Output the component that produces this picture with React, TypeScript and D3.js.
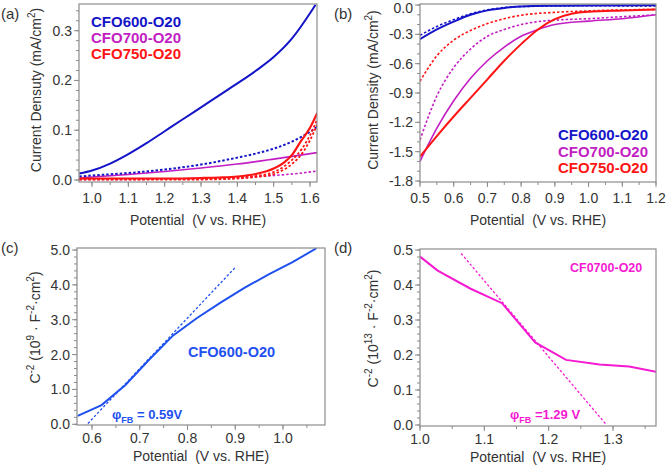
import { useEffect, useRef } from "react";
import * as d3 from "d3";

type Pt = [number, number];

// (a) OER current, solid = light, dotted = dark
const aBlueLight: Pt[] = [[0.965, 0.013], [1.0, 0.019], [1.05, 0.033], [1.1, 0.052], [1.15, 0.074], [1.2, 0.098], [1.25, 0.122], [1.3, 0.146], [1.35, 0.17], [1.4, 0.194], [1.45, 0.219], [1.5, 0.247], [1.55, 0.284], [1.6, 0.335], [1.615, 0.352]];
const aBlueDark: Pt[] = [[0.965, 0.007], [1.0, 0.009], [1.1, 0.014], [1.2, 0.021], [1.3, 0.031], [1.4, 0.045], [1.45, 0.053], [1.5, 0.063], [1.55, 0.077], [1.6, 0.097], [1.62, 0.107]];
const aMagLight: Pt[] = [[0.965, 0.004], [1.0, 0.006], [1.1, 0.011], [1.2, 0.017], [1.3, 0.024], [1.4, 0.032], [1.5, 0.042], [1.62, 0.055]];
const aMagDark: Pt[] = [[0.965, 0.001], [1.1, 0.001], [1.2, 0.002], [1.3, 0.003], [1.4, 0.005], [1.5, 0.009], [1.55, 0.012], [1.62, 0.018]];
const aRedLight: Pt[] = [[0.965, 0.003], [1.2, 0.003], [1.3, 0.004], [1.35, 0.005], [1.4, 0.007], [1.45, 0.012], [1.5, 0.023], [1.53, 0.036], [1.55, 0.05], [1.575, 0.078], [1.6, 0.105], [1.62, 0.135]];
const aRedDark1: Pt[] = [[0.965, 0.002], [1.3, 0.002], [1.4, 0.004], [1.45, 0.008], [1.5, 0.016], [1.55, 0.04], [1.58, 0.065], [1.6, 0.09], [1.62, 0.122]];
const aRedDark2: Pt[] = [[0.965, 0.001], [1.3, 0.001], [1.4, 0.003], [1.45, 0.006], [1.5, 0.012], [1.55, 0.032], [1.58, 0.055], [1.6, 0.08], [1.62, 0.112]];

// (b) ORR current
const bBlueLight: Pt[] = [[0.5, -0.35], [0.55, -0.25], [0.6, -0.17], [0.65, -0.1], [0.7, -0.055], [0.75, -0.03], [0.8, -0.015], [0.9, -0.008], [1.0, -0.005], [1.2, -0.003]];
const bBlueDark: Pt[] = [[0.5, -0.31], [0.55, -0.22], [0.6, -0.15], [0.65, -0.09], [0.7, -0.05], [0.8, -0.016], [1.0, -0.008], [1.2, -0.01]];
const bRedDark: Pt[] = [[0.5, -0.78], [0.55, -0.52], [0.6, -0.36], [0.65, -0.26], [0.7, -0.19], [0.75, -0.14], [0.8, -0.105], [0.9, -0.075], [1.0, -0.06], [1.1, -0.05], [1.2, -0.045]];
const bMagDark: Pt[] = [[0.5, -1.38], [0.55, -0.93], [0.6, -0.64], [0.65, -0.45], [0.7, -0.32], [0.75, -0.25], [0.8, -0.2], [0.85, -0.17], [0.9, -0.155], [1.0, -0.14], [1.1, -0.12], [1.2, -0.1]];
const bMagLight: Pt[] = [[0.5, -1.6], [0.55, -1.26], [0.6, -0.98], [0.65, -0.75], [0.7, -0.57], [0.75, -0.43], [0.8, -0.32], [0.85, -0.25], [0.9, -0.2], [1.0, -0.165], [1.1, -0.14], [1.2, -0.1]];
const bRedLight: Pt[] = [[0.5, -1.55], [0.55, -1.34], [0.6, -1.14], [0.65, -0.95], [0.7, -0.76], [0.75, -0.57], [0.8, -0.4], [0.85, -0.25], [0.9, -0.145], [0.95, -0.09], [1.0, -0.07], [1.1, -0.055], [1.2, -0.045]];

// (c) Mott-Schottky CFO600-O20
const cData: Pt[] = [[0.57, 0.24], [0.62, 0.55], [0.67, 1.13], [0.72, 1.86], [0.77, 2.55], [0.82, 3.05], [0.87, 3.5], [0.92, 3.92], [0.97, 4.3], [1.02, 4.65], [1.07, 5.05]];
const cFit: Pt[] = [[0.585, -0.07], [0.9, 4.5]];

// (d) Mott-Schottky CF0700-O20
const dData: Pt[] = [[1.0, 0.481], [1.0275, 0.441], [1.078, 0.39], [1.1275, 0.348], [1.179, 0.236], [1.227, 0.186], [1.279, 0.173], [1.325, 0.167], [1.367, 0.152]];
const dFit: Pt[] = [[1.064, 0.49], [1.29, 0.0]];

const aXTicks = [1.0, 1.1, 1.2, 1.3, 1.4, 1.5, 1.6];
const aYTicks = [0.0, 0.1, 0.2, 0.3];
const bXTicks = [0.5, 0.6, 0.7, 0.8, 0.9, 1.0, 1.1, 1.2];
const bYTicks = [0.0, -0.3, -0.6, -0.9, -1.2, -1.5, -1.8];
const cXTicks = [0.6, 0.7, 0.8, 0.9, 1.0];
const cYTicks = [0.0, 1.0, 2.0, 3.0, 4.0, 5.0];
const dXTicks = [1.0, 1.1, 1.2, 1.3];
const dYTicks = [0.0, 0.1, 0.2, 0.3, 0.4, 0.5];

const legendNames = ["CFO600-O20", "CFO700-O20", "CFO750-O20"];

const BLUE = "#1414c8";
const MAG = "#c21ec2";
const RED = "#ff1414";
const BLUE2 = "#1f50f0";
const PINK = "#f51ad2";
const FRAME = "#8c8c8c";
const INK = "#333";

type Part = [string, "n" | "sup" | "sub"];

function rich(text: any, parts: Part[], small: number) {
    let shift = 0;
    parts.forEach(([s, kind]) => {
        const target = kind === "sup" ? -6 : kind === "sub" ? 4 : 0;
        const t = text.append("tspan").attr("dy", target - shift).text(s);
        if (kind !== "n") t.attr("font-size", small);
        shift = target;
    });
}

interface Series { data: Pt[]; color: string; dotted?: boolean; width?: number; curve?: boolean }

function drawPanel(svg: any, o: {
    id: string;
    box: [number, number, number, number];
    xDom: [number, number]; xRng: [number, number];
    yDom: [number, number]; yRng: [number, number];
    xTicks: number[]; yTicks: number[]; xMinor: number; yMinor: number;
    labelGap: number; xTitleY: number; yTitleX: number; yTitleShift: number;
    yTitle: Part[]; series: Series[];
}) {
    const [x0, x1, y0, y1] = o.box;
    const x = d3.scaleLinear().domain(o.xDom).range(o.xRng);
    const y = d3.scaleLinear().domain(o.yDom).range(o.yRng);
    const g = svg.append("g");

    g.append("clipPath").attr("id", o.id).append("rect")
        .attr("x", x0).attr("y", y0).attr("width", x1 - x0).attr("height", y1 - y0);

    // minor + major ticks
    const xMin = x.invert(x0), xMax = x.invert(x1);
    const yLo = Math.min(y.invert(y0), y.invert(y1)), yHi = Math.max(y.invert(y0), y.invert(y1));
    const xm = d3.range(Math.ceil(xMin / o.xMinor - 1e-6), Math.floor(xMax / o.xMinor + 1e-6) + 1).map((k) => k * o.xMinor);
    const ym = d3.range(Math.ceil(yLo / o.yMinor - 1e-6), Math.floor(yHi / o.yMinor + 1e-6) + 1).map((k) => k * o.yMinor);

    g.selectAll(".xm").data(xm).enter().append("line")
        .attr("x1", (d: number) => x(d)).attr("x2", (d: number) => x(d))
        .attr("y1", y1).attr("y2", y1 + 3).attr("stroke", FRAME);
    g.selectAll(".ym").data(ym).enter().append("line")
        .attr("y1", (d: number) => y(d)).attr("y2", (d: number) => y(d))
        .attr("x1", x0).attr("x2", x0 - 3).attr("stroke", FRAME);
    g.selectAll(".xt").data(o.xTicks).enter().append("line")
        .attr("x1", (d: number) => x(d)).attr("x2", (d: number) => x(d))
        .attr("y1", y1).attr("y2", y1 + 5).attr("stroke", FRAME);
    g.selectAll(".yt").data(o.yTicks).enter().append("line")
        .attr("y1", (d: number) => y(d)).attr("y2", (d: number) => y(d))
        .attr("x1", x0).attr("x2", x0 - 5).attr("stroke", FRAME);

    g.selectAll(".xl").data(o.xTicks).enter().append("text")
        .attr("x", (d: number) => x(d)).attr("y", y1 + o.labelGap)
        .attr("text-anchor", "middle").attr("font-size", 14).attr("fill", INK)
        .text((d: number) => d.toFixed(1));
    g.selectAll(".yl").data(o.yTicks).enter().append("text")
        .attr("x", x0 - 7).attr("y", (d: number) => Math.max(y(d) + 5, 13))
        .attr("text-anchor", "end").attr("font-size", 14).attr("fill", INK)
        .text((d: number) => (Math.abs(d) < 1e-9 ? "0.0" : d.toFixed(1)));

    g.append("text").attr("x", (x0 + x1) / 2).attr("y", o.xTitleY)
        .attr("text-anchor", "middle").attr("font-size", 14).attr("fill", INK)
        .attr("xml:space", "preserve").text("Potential  (V vs. RHE)");

    const yt = g.append("text")
        .attr("transform", `translate(${o.yTitleX},${(y0 + y1) / 2 + o.yTitleShift}) rotate(-90)`)
        .attr("text-anchor", "middle").attr("font-size", 14).attr("fill", INK);
    rich(yt, o.yTitle, 10);

    const plot = g.append("g").attr("clip-path", `url(#${o.id})`);
    o.series.forEach((s) => {
        const line = d3.line<Pt>().x((d) => x(d[0])).y((d) => y(d[1]))
            .curve(s.curve ? d3.curveMonotoneX : d3.curveLinear);
        plot.append("path").attr("d", line(s.data)).attr("fill", "none")
            .attr("stroke", s.color).attr("stroke-width", s.width ?? 2)
            .attr("stroke-dasharray", s.dotted ? "2.5,2" : null);
    });

    g.append("rect").attr("x", x0).attr("y", y0).attr("width", x1 - x0).attr("height", y1 - y0)
        .attr("fill", "none").attr("stroke", FRAME).attr("stroke-width", 1.2);

    return { g, x, y };
}

export default function App() {
    const svgRef = useRef<SVGSVGElement | null>(null);

    useEffect(() => {
        if (!svgRef.current) return;
        const svg = d3.select(svgRef.current);
        svg.selectAll("*").remove();

        const densityTitle = (word: string): Part[] => [[`Current ${word} (mA/cm`, "n"], ["2", "sup"], [")", "n"]];

        // (a)
        drawPanel(svg, {
            id: "clipA", box: [79, 317, 4, 182],
            xDom: [1.0, 1.6], xRng: [92, 310], yDom: [0, 0.3], yRng: [180, 30.7],
            xTicks: aXTicks, yTicks: aYTicks, xMinor: 0.05, yMinor: 0.02,
            labelGap: 21, xTitleY: 225, yTitleX: 41, yTitleShift: -3,
            yTitle: densityTitle("Densuty"),
            series: [
                { data: aMagDark, color: MAG, dotted: true, width: 1.6, curve: true },
                { data: aMagLight, color: MAG, width: 1.6, curve: true },
                { data: aBlueDark, color: BLUE, dotted: true, width: 2, curve: true },
                { data: aBlueLight, color: BLUE, width: 2, curve: true },
                { data: aRedDark2, color: RED, dotted: true, width: 1.8, curve: true },
                { data: aRedDark1, color: RED, dotted: true, width: 1.8, curve: true },
                { data: aRedLight, color: RED, width: 2.2, curve: true },
            ],
        });
        const legA = svg.append("g");
        legendNames.forEach((n, i) => {
            legA.append("text").attr("x", 91).attr("y", 27 + i * 16)
                .attr("font-size", 15).attr("font-weight", "bold")
                .attr("fill", [BLUE, MAG, RED][i]).text(n);
        });

        // (b)
        drawPanel(svg, {
            id: "clipB", box: [420, 656, 4, 182],
            xDom: [0.5, 1.2], xRng: [420, 656], yDom: [0, -1.8], yRng: [5, 181],
            xTicks: bXTicks, yTicks: bYTicks, xMinor: 0.05, yMinor: 0.1,
            labelGap: 21, xTitleY: 225, yTitleX: 378, yTitleShift: -3,
            yTitle: densityTitle("Density"),
            series: [
                { data: bMagDark, color: MAG, dotted: true, width: 1.6, curve: true },
                { data: bRedDark, color: RED, dotted: true, width: 1.6, curve: true },
                { data: bBlueDark, color: BLUE, dotted: true, width: 1.6, curve: true },
                { data: bMagLight, color: MAG, width: 1.6, curve: true },
                { data: bRedLight, color: RED, width: 2, curve: true },
                { data: bBlueLight, color: BLUE, width: 2, curve: true },
            ],
        });
        const legB = svg.append("g");
        legendNames.forEach((n, i) => {
            legB.append("text").attr("x", 648).attr("y", 140 + i * 16.5)
                .attr("text-anchor", "end")
                .attr("font-size", 15).attr("font-weight", "bold")
                .attr("fill", [BLUE, MAG, RED][i]).text(n);
        });

        // (c)
        const c = drawPanel(svg, {
            id: "clipC", box: [77, 325, 248, 425],
            xDom: [0.6, 1.0], xRng: [92, 283], yDom: [0, 5], yRng: [424.3, 250],
            xTicks: cXTicks, yTicks: cYTicks, xMinor: 0.05, yMinor: 0.2,
            labelGap: 18, xTitleY: 461, yTitleX: 40, yTitleShift: -9,
            yTitle: [["C", "n"], ["-2", "sup"], [" (10", "n"], ["9", "sup"], [" · F", "n"], ["-2", "sup"], ["·cm", "n"], ["2", "sup"], [")", "n"]],
            series: [
                { data: cFit, color: BLUE2, dotted: true, width: 1.3 },
                { data: cData, color: BLUE2, width: 2 },
            ],
        });
        c.g.append("text").attr("x", 188).attr("y", 357).attr("font-size", 14.5)
            .attr("font-weight", "bold").attr("fill", BLUE2).text("CFO600-O20");
        const phiC = c.g.append("text").attr("x", 112).attr("y", 419).attr("font-size", 13)
            .attr("font-weight", "bold").attr("fill", BLUE2);
        rich(phiC, [["φ", "n"], ["FB", "sub"], [" = 0.59V", "n"]], 9);

        // (d)
        const d = drawPanel(svg, {
            id: "clipD", box: [420, 656, 249, 426],
            xDom: [1.0, 1.3], xRng: [420, 613], yDom: [0, 0.5], yRng: [425, 250],
            xTicks: dXTicks, yTicks: dYTicks, xMinor: 0.05, yMinor: 0.02,
            labelGap: 18, xTitleY: 462, yTitleX: 378, yTitleShift: -9,
            yTitle: [["C", "n"], ["-2", "sup"], [" (10", "n"], ["13", "sup"], [" · F", "n"], ["-2", "sup"], ["·cm", "n"], ["2", "sup"], [")", "n"]],
            series: [
                { data: dFit, color: PINK, dotted: true, width: 1.3 },
                { data: dData, color: PINK, width: 2 },
            ],
        });
        d.g.append("text").attr("x", 570).attr("y", 272).attr("font-size", 12.5)
            .attr("font-weight", "bold").attr("fill", PINK).text("CF0700-O20");
        const phiD = d.g.append("text").attr("x", 510).attr("y", 419).attr("font-size", 13)
            .attr("font-weight", "bold").attr("fill", PINK).attr("xml:space", "preserve");
        rich(phiD, [["φ", "n"], ["FB", "sub"], [" =1.29 V", "n"]], 9);

        // panel letters
        [["(a)", 1, 19], ["(b)", 334, 19], ["(c)", 1, 253], ["(d)", 334, 253]].forEach(([t, px, py]) => {
            svg.append("text").attr("x", px as number).attr("y", py as number)
                .attr("font-size", 15).attr("fill", INK).text(t as string);
        });
    }, []);

    return (
        <svg
            ref={svgRef}
            width={666}
            height={469}
            style={{ position: "absolute", left: 0, top: 0, background: "#fff", fontFamily: "'Liberation Sans', Arial, sans-serif" }}
        />
    );
}
